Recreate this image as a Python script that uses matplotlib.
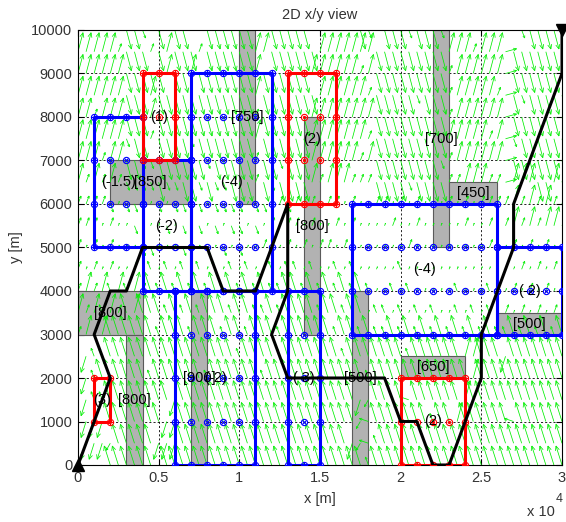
import numpy as np
import matplotlib.pyplot as plt
from matplotlib.patches import Rectangle
from matplotlib.collections import LineCollection
from matplotlib.ticker import FuncFormatter

plt.rcParams['font.family'] = ['Liberation Sans', 'DejaVu Sans']

# plot domain [m]
x_lim = (0, 30000)
y_lim = (0, 10000)

# gray obstacles: x0, x1, y0, y1 and height label
obs_x0 = [10000, 2000, 0, 3000, 7000, 14000, 22000, 23000, 17000, 20000, 26000]
obs_x1 = [11000, 7000, 4000, 4000, 8000, 15000, 23000, 26000, 18000, 24000, 30000]
obs_y0 = [6000, 6000, 3000, 0, 0, 3000, 5000, 6000, 0, 2000, 3000]
obs_y1 = [10000, 7000, 4000, 3000, 4000, 8000, 10000, 6500, 4000, 2500, 3500]
obs_lbl = ['[750]', '[850]', '[800]', '[800]', '[900]', '[800]', '[700]', '[450]', '[500]', '[650]', '[500]']

# blue zones (negative values)
blue_x0 = [1000, 4000, 7000, 6000, 13000, 17000, 26000]
blue_x1 = [4000, 7000, 12000, 11000, 15000, 26000, 30000]
blue_y0 = [5000, 4000, 4000, 0, 0, 3000, 3000]
blue_y1 = [8000, 7000, 9000, 4000, 4000, 6000, 5000]
blue_lbl = ['(-1.5)', '(-2)', '(-4)', '(-2)', '(-3)', '(-4)', '(-2)']
blue_lx = [2500, 5500, 9500, 8500, 14000, 21500, 28000]
blue_ly = [6500, 5500, 6500, 2000, 2000, 4500, 4000]

# red zones (positive values)
red_x0 = [4000, 13000, 1000, 20000]
red_x1 = [6000, 16000, 2000, 24000]
red_y0 = [7000, 6000, 1000, 0]
red_y1 = [9000, 9000, 2000, 2000]
red_lbl = ['(1)', '(2)', '(3)', '(2)']

# flight path
path_x = [0, 2000, 1000, 2000, 3000, 4000, 8000, 9000, 11000, 13000, 13000, 12000,
          13000, 19000, 20000, 21000, 22000, 23000, 25000, 25000, 27000, 27000, 30000, 30000]
path_y = [0, 2000, 3000, 4000, 4000, 5000, 5000, 4000, 4000, 6000, 4000, 3000,
          2000, 2000, 1000, 1000, 0, 0, 2000, 3000, 5000, 6000, 9000, 10000]

# wind arrows on a 500 m grid, rows from y=10000 down to y=0
# N/S = up/down leaning right, n/s = up/down leaning left, a/b/c/d = short versions,
# E/W = flat right/left, . = tiny
wind_rows = [
    "NNaNNN SSb NSN SSa NSS SSSSaNSSS SSNN NNNNS bE SSSbSS Sb aNNNNNN EEb SSSSS",
    "NNNNNa SSS aSN SSS aSS SSSSNNSSS SSSN NNNNN NS SSSSSS SS NNNaNNN ESS SSSSS",
    "NNNNNN SSS SSN SSN SSS SSSSNSSSS SSNN NNNNa NS SSSSSS SS aNNNNNN ESS SSSSS",
    "NNNNNN SSS NSS SSS SSS SSSSNSSSS SSSN NNNNN aS SSSSbS SS aNNNNNa ESb SSSSS",
    "NNaNNN SSS NSS SSS SSS SSSSaSSSS SSNN NNNNN NS SSSSSS SS aNNNNNN ESS SSSSS",
    "NNNNNN bSS aSS SSb SSS SSSSNSSSS SSNN NNNNN aS SSSSSS SS NNNNNaN EbS SSSSS",
    "NNNaNN SSb bSS SSS SbS SSSSaSSbS SSNN NNNNa NS SSSSSS Sb aNNNNNN ESS SSSSS",
    "NaNaNa bbb bSb bSS bSb bSSSaSbSS SSNa NNNaa aS SSSbSS SS aaNNNaa ENN NSSNN",
    "aaaab. bb. .b. bb. b.b bbb.bb.ab aaa. aa.a. .a a.a.a. .. a.a.aaa aNa NaNaN",
    "aaa.a. .b. ..b .b. b.b .bb.b.a.a a.a. .a.a. .. .a..a. .. ..a..a. aNa NaNNa",
    "a.a.a. ..b b.. .b. .b. b.b..aa.a .a.a a.a.. .. ...a.. .. .....a. .a. a.a.a",
    "a.a.a. .a. c.c .c. c.c .c.c..c.c c.c. .c.c. .. ..c... .. ....... ..a .a.a.",
    "aNaNcN cNa ncn cnc ncn cncncnccn ncnc ncncn c. .c.c.. .. .c...c. .a. a.a.a",
    "NaNcNa nNn nnc ncn cnn ncnnccncn nnnc nncnn .c c.c.c. c. .c.c.c. a.a .a.a.",
    "aNaNnn nnn ncn nnc nnn cnncnnncn nnnn ncnnc nc cncncn cn cncncnc cnc ncncn",
    "ssccnn nnn nnn nnn nnn nncnnnncn nnnn nncnn nn nnncnn nn nnNNnnn snn nnnnn",
    "sscnnn nnn cnn nnn ncn nnnnncnnn nnnn nnnnn cn nnnnnn nn nnnNnnn nnn nnnnn",
    "ssccnn nnn nnn snn nnn nnnnnnnnn nnnn nnnns dn nnnWnn nn nnNnnnn nnn nnnnn",
    "ssssnn nnn nns snn nnn nnnnnnnnn nnnn nnnnd Wn nnnnnn cn nNnnnnn nWn nnnnn",
    "ssssdn nnn nss snn nnn nnnnnnnnn nnnn nnnsd Wc nnnnnn nn nnnnnnn nnn nnnnn",
    "sssdnn nnn nsn nnn nnn nnnnnnnnn nnnn nnnnn cn nnnnnn nn nnnnnnn nnn nnnnn",
]
# arrow vector for each code, in screen pixels (dx, dy)
wind_code = {'N': (5, 19), 'S': (5, -19), 'n': (-6, 19), 's': (-5, -16),
             'a': (3, 8), 'b': (3, -8), 'c': (-3, 8), 'd': (-4, -7),
             'E': (11, 3), 'W': (-9, 3), '.': (1, 2.5)}

fig = plt.figure(figsize=(5.66, 5.22), dpi=100)
ax = fig.add_axes([78 / 566, 57 / 522, 484 / 566, 435 / 522])
ax.set_xlim(*x_lim)
ax.set_ylim(*y_lim)

# metres per pixel
mx = (x_lim[1] - x_lim[0]) / 484.0
my = (y_lim[1] - y_lim[0]) / 435.0

# obstacles
for x0, x1, y0, y1 in zip(obs_x0, obs_x1, obs_y0, obs_y1):
    ax.add_patch(Rectangle((x0, y0), x1 - x0, y1 - y0, facecolor='#b2b2b2',
                           edgecolor='#5a5a5a', linewidth=0.8, zorder=1.5))

# wind field (matlab style open arrow heads)
segs = []
for r, row in enumerate(wind_rows):
    row = row.replace(' ', '')
    yy = y_lim[1] - r * 500
    for i, ch in enumerate(row):
        xx = i * 500
        u, v = wind_code[ch]
        L = np.hypot(u, v)
        tip = np.array([xx + u * mx, yy + v * my])
        segs.append([(xx, yy), tuple(tip)])
        h = min(0.3 * L, 5.0)
        d = np.array([u, v]) / L
        for ang in (0.42, -0.42):
            c, s = np.cos(ang), np.sin(ang)
            back = np.array([c * d[0] - s * d[1], s * d[0] + c * d[1]]) * h
            segs.append([tuple(tip), (tip[0] - back[0] * mx, tip[1] - back[1] * my)])
ax.add_collection(LineCollection(segs, colors='#00ee00', linewidths=0.55, zorder=2))


def zone(x0, x1, y0, y1, col, inner_mk):
    ax.plot([x0, x1, x1, x0, x0], [y0, y0, y1, y1, y0], color=col, lw=2.2, zorder=3)
    gx, gy = np.meshgrid(np.arange(x0, x1 + 1, 1000), np.arange(y0, y1 + 1, 1000))
    gx, gy = gx.ravel(), gy.ravel()
    edge = (gx == x0) | (gx == x1) | (gy == y0) | (gy == y1)
    ax.plot(gx, gy, 'o', mfc='none', mec=col, ms=4.5, mew=0.8, zorder=4)
    ax.plot(gx[edge], gy[edge], '+', color=col, ms=4.5, mew=0.8, zorder=4)
    ax.plot(gx[~edge], gy[~edge], inner_mk, color=col, ms=3.2, mew=0.8, zorder=4)


for x0, x1, y0, y1 in zip(blue_x0, blue_x1, blue_y0, blue_y1):
    zone(x0, x1, y0, y1, '#0000ff', 'x')
# zone (-3) top edge runs back to the (-4) zone corner
ax.plot([12000, 13000], [4000, 4000], color='#0000ff', lw=2.2, zorder=3)
for x0, x1, y0, y1 in zip(red_x0, red_x1, red_y0, red_y1):
    zone(x0, x1, y0, y1, '#ff0000', '.')

# path
ax.plot(path_x, path_y, color='k', lw=2.2, zorder=5)
ax.plot(path_x[0], path_y[0], '^', color='k', ms=9, zorder=6, clip_on=False)
ax.plot(path_x[-1], path_y[-1], 'v', color='k', ms=9, zorder=6, clip_on=False)

# labels
for x0, x1, y0, y1, s in zip(obs_x0, obs_x1, obs_y0, obs_y1, obs_lbl):
    ax.text((x0 + x1) / 2, (y0 + y1) / 2, s, ha='center', va='center', fontsize=10.5, zorder=7)
for lx, ly, s in zip(blue_lx, blue_ly, blue_lbl):
    ax.text(lx, ly, s, ha='center', va='center', fontsize=10.5, zorder=7)
for x0, x1, y0, y1, s in zip(red_x0, red_x1, red_y0, red_y1, red_lbl):
    ax.text((x0 + x1) / 2, (y0 + y1) / 2, s, ha='center', va='center', fontsize=10.5, zorder=7)

# axes styling
ax.set_xticks(np.arange(0, 30001, 5000))
ax.set_yticks(np.arange(0, 10001, 1000))
ax.xaxis.set_major_formatter(FuncFormatter(lambda v, p: f'{v / 1e4:g}'))
ax.grid(True, color='k', linestyle=(0, (2.5, 2.5)), linewidth=0.6)
ax.set_axisbelow(True)
ax.tick_params(direction='in', length=4, top=True, right=True, labelsize=10.5,
               labelcolor='#333333', pad=4)
for sp in ax.spines.values():
    sp.set_linewidth(0.8)
ax.set_title('2D x/y view', fontsize=10.5, color='#333333', pad=8)
ax.set_xlabel('x [m]', fontsize=10.5, color='#333333', labelpad=5)
ax.set_ylabel('y [m]', fontsize=10.5, color='#333333', labelpad=6)
fig.text(527 / 566, 1 - 512 / 522, 'x 10', fontsize=10.5, color='#333333', va='center')
fig.text(556 / 566, 1 - 499 / 522, '4', fontsize=9, color='#333333', va='center')

plt.savefig('out.png', dpi=100)
